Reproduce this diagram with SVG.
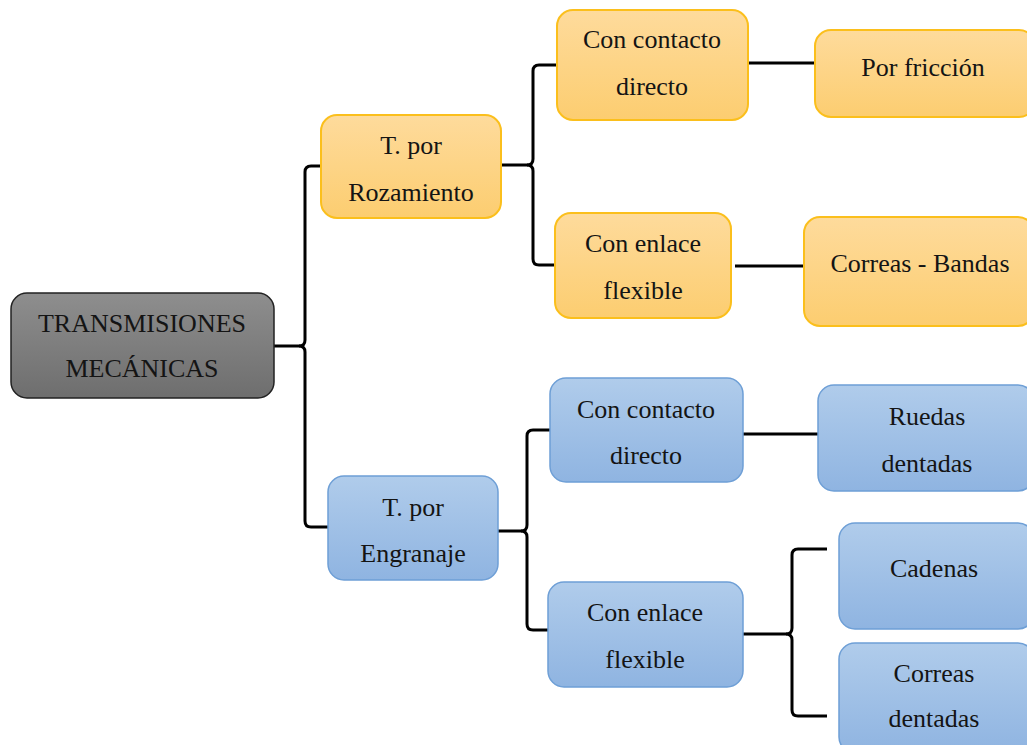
<svg xmlns="http://www.w3.org/2000/svg" width="1027" height="745" viewBox="0 0 1027 745">
  <defs>
    <linearGradient id="gOrange" x1="0" y1="0" x2="0" y2="1">
      <stop offset="0" stop-color="#fedb9c"/>
      <stop offset="1" stop-color="#fccd70"/>
    </linearGradient>
    <linearGradient id="gBlue" x1="0" y1="0" x2="0" y2="1">
      <stop offset="0" stop-color="#b0cceb"/>
      <stop offset="1" stop-color="#8fb4e1"/>
    </linearGradient>
    <linearGradient id="gGray" x1="0" y1="0" x2="0" y2="1">
      <stop offset="0" stop-color="#8e8e8e"/>
      <stop offset="1" stop-color="#6e6e6e"/>
    </linearGradient>
  </defs>
  <rect width="1027" height="745" fill="#fff"/>

  <g id="connectors" fill="none" stroke="#000" stroke-width="3" stroke-linejoin="round">
    <!-- root brace -->
    <path d="M274 346 H299 Q305 346 305 340 V172 Q305 166 311 166 H321"/>
    <path d="M299 346 Q305 346 305 352 V521 Q305 527 311 527 H329"/>
    <!-- rozamiento brace -->
    <path d="M501 165 H527 Q533 165 533 159 V71 Q533 65 539 65 H557"/>
    <path d="M527 165 Q533 165 533 171 V259 Q533 265 539 265 H555"/>
    <!-- engranaje brace -->
    <path d="M498 531 H521 Q527 531 527 525 V436 Q527 430 533 430 H550"/>
    <path d="M521 531 Q527 531 527 537 V624 Q527 630 533 630 H548"/>
    <!-- flexible (engranaje) brace -->
    <path d="M743 634 H786 Q792 634 792 628 V555 Q792 549 798 549 H827"/>
    <path d="M786 634 Q792 634 792 640 V710 Q792 716 798 716 H827"/>
    <!-- straight links -->
    <path d="M748 63 H815"/>
    <path d="M735 266 H804"/>
    <path d="M743 434 H818"/>
  </g>

  <g id="root">
    <rect x="11" y="293" width="263" height="105" rx="16" fill="url(#gGray)" stroke="#222" stroke-width="1.5"/>
    <text x="142" y="332" font-family="Liberation Serif" font-size="26" fill="#141414" text-anchor="middle">TRANSMISIONES</text>
    <text x="142" y="377" font-family="Liberation Serif" font-size="26" fill="#141414" text-anchor="middle">MECÁNICAS</text>
  </g>

  <g id="rozamiento">
    <rect x="321" y="115" width="180" height="103" rx="16" fill="url(#gOrange)" stroke="#fbbf1c" stroke-width="2"/>
    <text x="411" y="154" font-family="Liberation Serif" font-size="26" fill="#141414" text-anchor="middle">T. por</text>
    <text x="411" y="201" font-family="Liberation Serif" font-size="26" fill="#141414" text-anchor="middle">Rozamiento</text>
  </g>

  <g id="roz-contacto">
    <rect x="557" y="10" width="191" height="110" rx="16" fill="url(#gOrange)" stroke="#fbbf1c" stroke-width="2"/>
    <text x="652" y="48" font-family="Liberation Serif" font-size="26" fill="#141414" text-anchor="middle">Con contacto</text>
    <text x="652" y="95" font-family="Liberation Serif" font-size="26" fill="#141414" text-anchor="middle">directo</text>
  </g>

  <g id="friccion">
    <rect x="815" y="30" width="220" height="87" rx="16" fill="url(#gOrange)" stroke="#fbbf1c" stroke-width="2"/>
    <text x="923" y="76" font-family="Liberation Serif" font-size="26" fill="#141414" text-anchor="middle">Por fricción</text>
  </g>

  <g id="roz-enlace">
    <rect x="555" y="213" width="176" height="105" rx="16" fill="url(#gOrange)" stroke="#fbbf1c" stroke-width="2"/>
    <text x="643" y="252" font-family="Liberation Serif" font-size="26" fill="#141414" text-anchor="middle">Con enlace</text>
    <text x="643" y="299" font-family="Liberation Serif" font-size="26" fill="#141414" text-anchor="middle">flexible</text>
  </g>

  <g id="correas-bandas">
    <rect x="804" y="217" width="230" height="109" rx="16" fill="url(#gOrange)" stroke="#fbbf1c" stroke-width="2"/>
    <text x="920" y="272" font-family="Liberation Serif" font-size="26" fill="#141414" text-anchor="middle">Correas - Bandas</text>
  </g>

  <g id="engranaje">
    <rect x="328" y="476" width="170" height="104" rx="16" fill="url(#gBlue)" stroke="#6e9fd6" stroke-width="1.5"/>
    <text x="413" y="516" font-family="Liberation Serif" font-size="26" fill="#141414" text-anchor="middle">T. por</text>
    <text x="413" y="562" font-family="Liberation Serif" font-size="26" fill="#141414" text-anchor="middle">Engranaje</text>
  </g>

  <g id="eng-contacto">
    <rect x="550" y="378" width="193" height="104" rx="16" fill="url(#gBlue)" stroke="#6e9fd6" stroke-width="1.5"/>
    <text x="646" y="418" font-family="Liberation Serif" font-size="26" fill="#141414" text-anchor="middle">Con contacto</text>
    <text x="646" y="464" font-family="Liberation Serif" font-size="26" fill="#141414" text-anchor="middle">directo</text>
  </g>

  <g id="ruedas">
    <rect x="818" y="385" width="216" height="106" rx="16" fill="url(#gBlue)" stroke="#6e9fd6" stroke-width="1.5"/>
    <text x="927" y="425" font-family="Liberation Serif" font-size="26" fill="#141414" text-anchor="middle">Ruedas</text>
    <text x="927" y="472" font-family="Liberation Serif" font-size="26" fill="#141414" text-anchor="middle">dentadas</text>
  </g>

  <g id="eng-enlace">
    <rect x="548" y="582" width="195" height="105" rx="16" fill="url(#gBlue)" stroke="#6e9fd6" stroke-width="1.5"/>
    <text x="645" y="621" font-family="Liberation Serif" font-size="26" fill="#141414" text-anchor="middle">Con enlace</text>
    <text x="645" y="668" font-family="Liberation Serif" font-size="26" fill="#141414" text-anchor="middle">flexible</text>
  </g>

  <g id="cadenas">
    <rect x="839" y="523" width="195" height="106" rx="16" fill="url(#gBlue)" stroke="#6e9fd6" stroke-width="1.5"/>
    <text x="934" y="577" font-family="Liberation Serif" font-size="26" fill="#141414" text-anchor="middle">Cadenas</text>
  </g>

  <g id="correas-dentadas">
    <rect x="839" y="643" width="195" height="110" rx="16" fill="url(#gBlue)" stroke="#6e9fd6" stroke-width="1.5"/>
    <text x="934" y="682" font-family="Liberation Serif" font-size="26" fill="#141414" text-anchor="middle">Correas</text>
    <text x="934" y="727" font-family="Liberation Serif" font-size="26" fill="#141414" text-anchor="middle">dentadas</text>
  </g>
</svg>
